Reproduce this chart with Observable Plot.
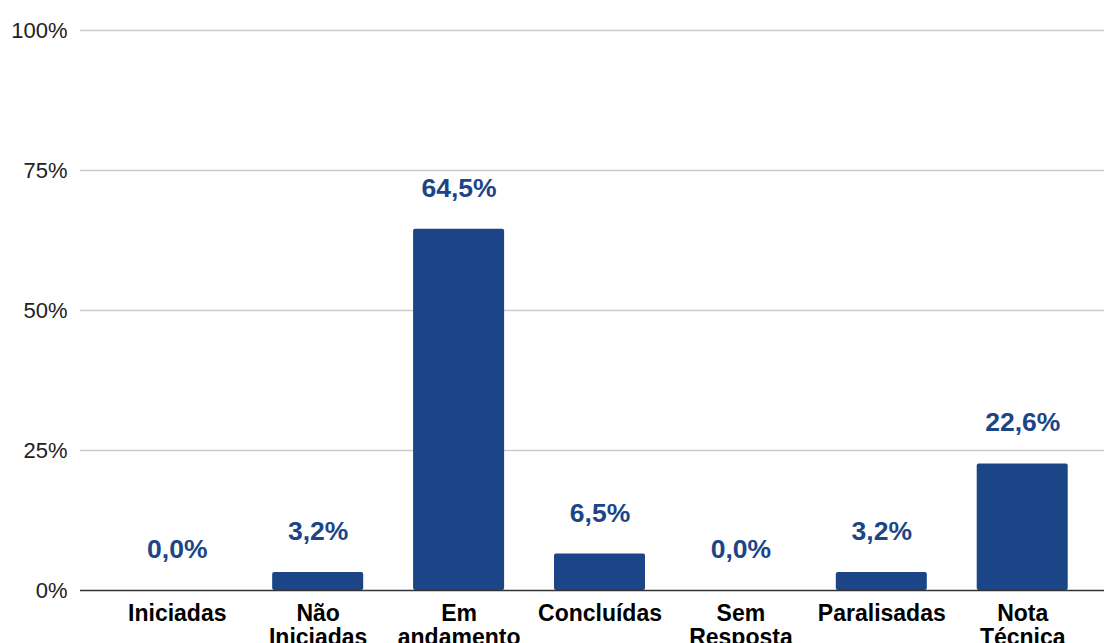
<!DOCTYPE html>
<html>
<head>
<meta charset="utf-8">
<script src="https://cdn.jsdelivr.net/npm/d3@7"></script>
<script src="https://cdn.jsdelivr.net/npm/@observablehq/plot@0.6"></script>
<style>
  html, body { margin: 0; padding: 0; background: #fff; overflow: hidden; }
  #chart svg { display: block; font-family: "Liberation Sans", Arial, sans-serif; }
  g[aria-label="x-axis tick label"] text { font-weight: bold; fill: #000; }
  g[aria-label="y-axis tick label"] text { fill: #222; }
</style>
</head>
<body>
<div id="chart"></div>
<script>
const categories = ["Iniciadas", "Não Iniciadas", "Em andamento", "Concluídas", "Sem Resposta", "Paralisadas", "Nota Técnica"];
const tickLabels = ["Iniciadas", "Não\nIniciadas", "Em\nandamento", "Concluídas", "Sem\nResposta", "Paralisadas", "Nota\nTécnica"];
const values = [0.0, 3.2, 64.5, 6.5, 0.0, 3.2, 22.6];
const yTicks = [0, 25, 50, 75, 100];

const data = categories.map((c, i) => ({category: c, value: values[i]}));
const labelOf = new Map(categories.map((c, i) => [c, tickLabels[i]]));
const fmt = v => v.toFixed(1).replace(".", ",") + "%";

const chart = Plot.plot({
  width: 1104,
  height: 643,
  marginLeft: 80,
  marginRight: 0,
  marginTop: 30,
  marginBottom: 53,
  style: {fontFamily: "'Liberation Sans', Arial, sans-serif", overflow: "visible"},
  x: {domain: categories, range: [89, 1110], paddingInner: 0.354, paddingOuter: 0.3, round: false, label: null},
  y: {domain: [0, 100], label: null},
  marks: [
    Plot.ruleY(yTicks.filter(d => d > 0), {stroke: "#cccccc", strokeWidth: 1.5}),
    Plot.barY(data, {x: "category", y: "value", fill: "#1c4587", rx: 2}),
    Plot.ruleY([0], {stroke: "#333333", strokeWidth: 1.5}),
    Plot.text(data, {x: "category", y: "value", text: d => fmt(d.value), dy: -41, fill: "#1c4587", fontSize: 26.5, fontWeight: "bold"}),
    Plot.axisY({ticks: yTicks, tickFormat: d => d + "%", tickSize: 0, tickPadding: 13, fontSize: 22, label: null}),
    Plot.axisX({tickFormat: d => labelOf.get(d), tickSize: 0, tickPadding: 13, fontSize: 23, lineHeight: 1.05, label: null})
  ]
});
document.getElementById("chart").appendChild(chart);
</script>
</body>
</html>
